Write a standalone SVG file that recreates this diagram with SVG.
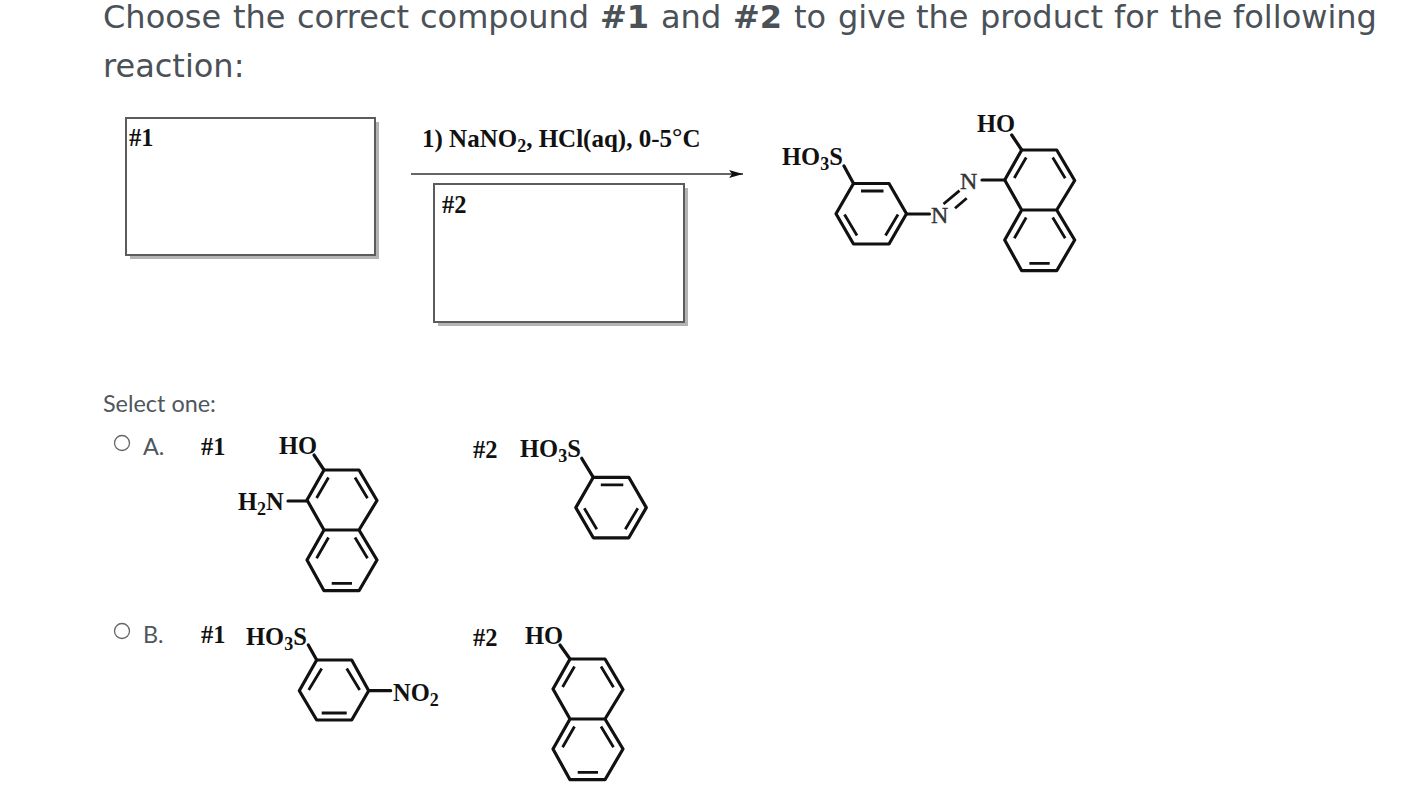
<svg xmlns="http://www.w3.org/2000/svg" width="1413" height="792" viewBox="0 0 1413 792">
<style>
.q{font-family:"DejaVu Sans",sans-serif;font-size:32px;fill:#4a5157}
.ui{font-family:"Lato","Open Sans",sans-serif;font-size:23.4px;fill:#4f565c}
.c{font-family:"Liberation Serif",serif;font-weight:700;font-size:24.5px;fill:#111}
.n{font-family:"Liberation Serif",serif;font-weight:400;font-size:24px;fill:#333;stroke:#333;stroke-width:.4}
.s{font-size:18px}
.b{fill:none;stroke:#111;stroke-width:3.2;stroke-linejoin:round;stroke-linecap:round}
.t{fill:none;stroke:#111;stroke-width:2.8;stroke-linecap:butt}
.box{fill:#fff;stroke:#5c5c5c;stroke-width:2}
.sh{fill:#b4b4b4}
.r{fill:#fff;stroke:#666;stroke-width:1.3}
</style>
<defs>
<marker id="ah" markerUnits="userSpaceOnUse" markerWidth="14" markerHeight="10" refX="14" refY="5" orient="auto"><path d="M0 1 L14 5 L0 9 L3 5 Z" fill="#111"/></marker>
<g id="naph">
<path class="b" d="M0 0H35L53 30.5L35 60H0L-17 30ZM0 60L-17 90L0 120.7H35L53 90L35 60"/>
<path class="t" d="M4.5 7.5L-7.4 28M31 7.5L43.5 28.3M4.5 67.5L-7.4 88.3M31 67.5L43.5 88.3M7.7 113.3H28"/>
</g>
<g id="benzA">
<path class="b" d="M0 0H35.5L53 30.3L35.5 60.5H0L-17.5 30.3Z"/>
<path class="t" d="M7.5 7.5H30M-9 31L3.5 52M44.5 31L32 52"/>
</g>
<g id="benzB">
<path class="b" d="M0 0H35L52 30.7L35 60H0L-17.4 30.7Z"/>
<path class="t" d="M5 8.5L-8 30M30 8.5L43 30M5 53H30"/>
</g>
</defs>
<rect width="1413" height="792" fill="#fff"/>
<g id="question">
<text class="q" y="28"><tspan x="103">Choose </tspan><tspan x="233">the </tspan><tspan x="297">correct </tspan><tspan x="420">compound </tspan><tspan x="600" font-weight="700">#1 </tspan><tspan x="661">and </tspan><tspan x="733" font-weight="700">#2 </tspan><tspan x="794">to </tspan><tspan x="838">give </tspan><tspan x="916">the </tspan><tspan x="980">product </tspan><tspan x="1114">for </tspan><tspan x="1170">the </tspan><tspan x="1233">following</tspan></text>
<text class="q" x="103" y="77">reaction:</text>
</g>
<g id="box1">
<rect class="sh" x="130" y="122" width="249" height="137"/>
<rect class="box" x="126" y="118" width="249" height="137"/>
<text class="c" x="129" y="146">#1</text>
</g>
<g id="reagents">
<text class="c" x="422" y="147" style="font-size:25px">1) NaNO<tspan class="s" dy="5">2</tspan><tspan dy="-5">, HCl(aq), 0-5</tspan><tspan style="font-size:26px" dy="-2">°</tspan><tspan dy="2">C</tspan></text>
</g>
<g id="box2">
<rect class="sh" x="438" y="188" width="250" height="138"/>
<rect class="box" x="434" y="184" width="250" height="138"/>
<text class="c" x="442" y="213">#2</text>
</g>
<g id="connectors">
<line x1="411" y1="174" x2="743" y2="174" stroke="#333" stroke-width="1.6" marker-end="url(#ah)"/>
</g>
<g id="product">
<use href="#benzA" x="853.5" y="183.5"/>
<use href="#naph" x="1021.7" y="150"/>
<path class="b" d="M844 166L853.5 183.5M907 214H929.5M982 180H1005M1021.7 150L1011.7 135"/>
<path class="t" d="M943.5 204L959.5 190.7M955 208.3L966.7 198.3"/>
<text class="c" x="782" y="165">HO<tspan class="s" dy="5">3</tspan><tspan dy="-5">S</tspan></text>
<text class="c" x="977" y="132">HO</text>
<text class="n" x="931" y="223">N</text>
<text class="n" x="960" y="189">N</text>
</g>
<text class="ui" x="103" y="412">Select one:</text>
<g id="optionA">
<circle class="r" cx="122" cy="443" r="7.5"/>
<text class="ui" x="143" y="455">A.</text>
<text class="c" x="201" y="455">#1</text>
<use href="#naph" x="324" y="470"/>
<path class="b" d="M324 470L314 455M288 501H306.7"/>
<text class="c" x="279" y="454">HO</text>
<text class="c" x="238" y="510">H<tspan class="s" dy="5">2</tspan><tspan dy="-5">N</tspan></text>
<text class="c" x="473" y="458">#2</text>
<text class="c" x="520" y="457">HO<tspan class="s" dy="5">3</tspan><tspan dy="-5">S</tspan></text>
<use href="#benzA" x="593.3" y="477.3"/>
<path class="b" d="M581.7 458.3L593.3 477.3"/>
</g>
<g id="optionB">
<circle class="r" cx="122" cy="631" r="7.5"/>
<text class="ui" x="143" y="643">B.</text>
<text class="c" x="201" y="643">#1</text>
<text class="c" x="246" y="645">HO<tspan class="s" dy="5">3</tspan><tspan dy="-5">S</tspan></text>
<use href="#benzB" x="316.7" y="660"/>
<path class="b" d="M308.3 645L316.7 660M368.5 690.7H390.7"/>
<text class="c" x="393" y="701">NO<tspan class="s" dy="5">2</tspan></text>
<text class="c" x="473" y="646">#2</text>
<text class="c" x="525" y="644">HO</text>
<use href="#naph" x="570" y="659"/>
<path class="b" d="M570 659L560 645"/>
</g>
</svg>
